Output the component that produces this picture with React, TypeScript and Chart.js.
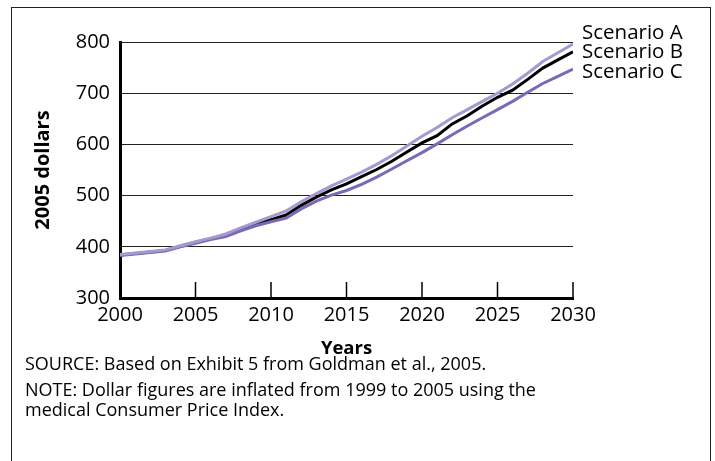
import { useEffect, useRef } from "react";
import { Chart, registerables } from "chart.js";

Chart.register(...registerables);

const YEARS = [
  2000, 2001, 2002, 2003, 2004, 2005, 2006, 2007, 2008, 2009, 2010,
  2011, 2012, 2013, 2014, 2015, 2016, 2017, 2018, 2019, 2020,
  2021, 2022, 2023, 2024, 2025, 2026, 2027, 2028, 2029, 2030,
];
const SCENARIO_A = [
  385, 388, 391, 394, 402, 410, 417, 425, 437, 448, 459,
  470, 488, 504, 519, 532, 546, 561, 578, 597, 616,
  633, 652, 668, 684, 700, 718, 739, 762, 779, 796,
];
const SCENARIO_B = [
  384, 387, 390, 393, 401, 409, 416, 423, 434, 444, 453,
  462, 481, 497, 511, 523, 537, 551, 567, 585, 603,
  617, 640, 656, 675, 692, 706, 727, 749, 765, 781,
];
const SCENARIO_C = [
  383, 386, 389, 392, 400, 407, 414, 420, 431, 441, 449,
  456, 474, 489, 501, 510, 522, 536, 552, 568, 584,
  601, 619, 636, 652, 668, 684, 702, 719, 733, 747,
];
const SERIES_NAMES = ["Scenario A", "Scenario B", "Scenario C"];
const SERIES_COLORS = ["#a599d0", "#000000", "#7b69b6"];
const X_TICKS = [2000, 2005, 2010, 2015, 2020, 2025, 2030];
const Y_TICKS = [300, 400, 500, 600, 700, 800];
const X_TITLE = "Years";
const Y_TITLE = "2005 dollars";
const SOURCE_TEXT = "SOURCE: Based on Exhibit 5 from Goldman et al., 2005.";
const NOTE_LINES = [
  "NOTE: Dollar figures are inflated from 1999 to 2005 using the",
  "medical Consumer Price Index.",
];

const FONT = "'Open Sans', sans-serif";
const CANVAS_W = 715;
const CANVAS_H = 362;

const decorPlugin = {
  id: "decor",
  afterDatasetsDraw(chart: any) {
    const { ctx, chartArea, scales } = chart;
    const x = scales.x;
    ctx.save();
    ctx.strokeStyle = "#000";
    ctx.lineWidth = 1.5;
    X_TICKS.forEach((v) => {
      if (v === X_TICKS[0]) return;
      const px = x.getPixelForValue(v);
      ctx.beginPath();
      ctx.moveTo(px, chartArea.bottom);
      ctx.lineTo(px, chartArea.bottom - 16);
      ctx.stroke();
    });
    ctx.font = `20.5px ${FONT}`;
    ctx.fillStyle = "#000";
    ctx.textBaseline = "middle";
    ctx.textAlign = "left";
    SERIES_NAMES.forEach((name, i) => {
      ctx.fillText(name, chartArea.right + 9, chartArea.top - 9 + i * 19.5);
    });
    ctx.restore();
  },
};

export default function App() {
  const ref = useRef<HTMLCanvasElement | null>(null);

  useEffect(() => {
    if (!ref.current) return;
    const datasets = [SCENARIO_A, SCENARIO_B, SCENARIO_C].map((vals, i) => ({
      label: SERIES_NAMES[i],
      data: YEARS.map((yr, j) => ({ x: yr, y: vals[j] })),
      borderColor: SERIES_COLORS[i],
      backgroundColor: SERIES_COLORS[i],
      borderWidth: 3,
      pointRadius: 0,
      tension: 0,
      fill: false,
    }));
    // draw B on top
    const ordered = [datasets[0], datasets[2], datasets[1]];
    const chart = new Chart(ref.current, {
      type: "line",
      data: { datasets: ordered },
      plugins: [decorPlugin],
      options: {
        animation: false,
        responsive: false,
        devicePixelRatio: 1,
        layout: { padding: { left: 0, right: 142, top: 42, bottom: 0 } },
        plugins: {
          legend: { display: false },
          tooltip: { enabled: false },
        },
        scales: {
          x: {
            type: "linear",
            min: 2000,
            max: 2030,
            afterBuildTicks: (s: any) => {
              s.ticks = X_TICKS.map((v) => ({ value: v }));
            },
            afterFit: (s: any) => {
              s.height = CANVAS_H - 298;
            },
            grid: { display: false, drawTicks: false },
            border: { display: true, color: "#000", width: 3 },
            ticks: {
              color: "#000",
              font: { family: FONT, size: 20 },
              padding: 5,
              maxRotation: 0,
              autoSkip: false,
              callback: (v: any) => String(v),
            },
            title: {
              display: true,
              text: X_TITLE,
              color: "#000",
              font: { family: FONT, size: 18.5, weight: "bold" },
              padding: { top: 0, bottom: 2 },
            },
          },
          y: {
            min: 300,
            max: 800,
            afterBuildTicks: (s: any) => {
              s.ticks = Y_TICKS.map((v) => ({ value: v }));
            },
            afterFit: (s: any) => {
              s.width = 120;
            },
            grid: { color: "#222", lineWidth: 1, drawTicks: false },
            border: { display: true, color: "#000", width: 3 },
            ticks: {
              color: "#000",
              font: { family: FONT, size: 20 },
              padding: 10,
              callback: (v: any) => String(v),
            },
            title: {
              display: true,
              text: Y_TITLE,
              color: "#000",
              font: { family: FONT, size: 20, weight: "bold" },
              padding: { top: 31, bottom: 0 },
            },
          },
        },
      } as any,
    });
    return () => chart.destroy();
  }, []);

  const textStyle: React.CSSProperties = {
    position: "absolute",
    left: 25,
    fontFamily: FONT,
    fontSize: 18,
    lineHeight: "20px",
    color: "#000",
    whiteSpace: "nowrap",
  };

  return (
    <div
      style={{
        position: "absolute",
        left: 0,
        top: 0,
        width: 715,
        height: 461,
        overflow: "hidden",
        background: "#fff",
      }}
    >
      <div
        style={{
          position: "absolute",
          left: 11,
          top: 7,
          width: 700,
          height: 480,
          border: "1px solid #222",
          boxSizing: "border-box",
        }}
      />
      <canvas
        ref={ref}
        width={CANVAS_W}
        height={CANVAS_H}
        style={{ position: "absolute", left: 0, top: 0, width: CANVAS_W, height: CANVAS_H }}
      />
      <div style={{ ...textStyle, top: 353 }}>{SOURCE_TEXT}</div>
      <div style={{ ...textStyle, top: 379 }}>
        {NOTE_LINES[0]}
        <br />
        {NOTE_LINES[1]}
      </div>
    </div>
  );
}
